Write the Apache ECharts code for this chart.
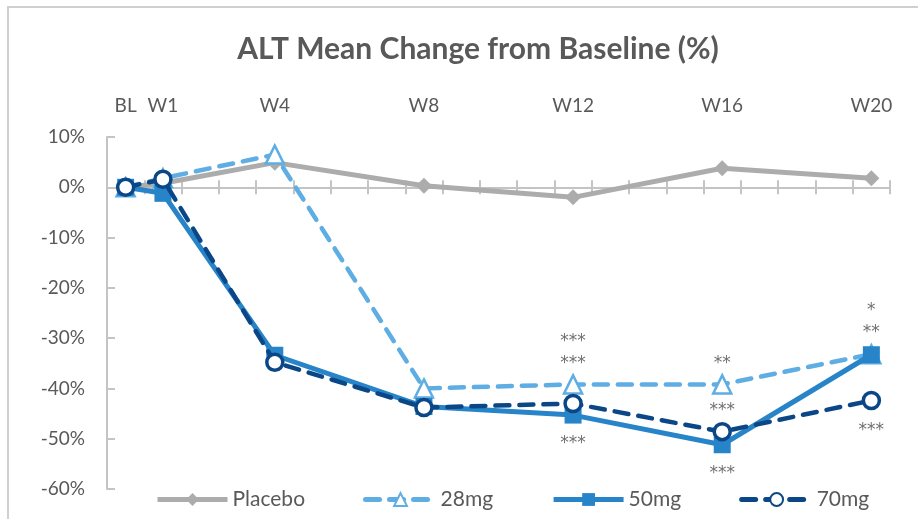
<!DOCTYPE html>
<html>
<head>
<meta charset="utf-8">
<script src="https://cdn.jsdelivr.net/npm/echarts@6/dist/echarts.min.js"></script>
<style>
html,body{margin:0;padding:0;background:#fff;}
#chart{width:918px;height:519px;}
</style>
</head>
<body>
<div id="chart"></div>
<script>
// ---- data ----
const weeks = [0, 1, 4, 8, 12, 16, 20];
const weekLabels = ['BL', 'W1', 'W4', 'W8', 'W12', 'W16', 'W20'];
const lastWeek = 20;
const seriesNames = ['Placebo', '28mg', '50mg', '70mg'];
const placebo = [0, 0.8, 4.9, 0.3, -2.0, 3.8, 1.8];
const mg28 = [0, 1.8, 6.5, -40.0, -39.2, -39.2, -33.2];
const mg50 = [0, -1.2, -33.4, -43.6, -45.3, -51.2, -33.3];
const mg70 = [0, 1.6, -34.8, -43.8, -43.0, -48.6, -42.4];
// significance annotations
const sigAbove28 = ['', '', '', '', '***\n***', '**', '*\n**'];
const sigBelow50 = ['', '', '', '', '***', '***', ''];
const sigAbove70 = ['', '', '', '', '', '***', ''];
const sigBelow70 = ['', '', '', '', '', '', '***'];
const yTicks = { min: -60, max: 10, step: 10 };

// ---- build ----
const FONT = 'Lato, "Noto Sans", sans-serif';
const TXT = '#595959';
const AX = '#c4c4c4';
const cats = [];
for (let w = 0; w <= lastWeek; w++) {
  const i = weeks.indexOf(w);
  cats.push(i >= 0 ? weekLabels[i] : '');
}
const sigStyle = { show: true, color: '#707070', fontSize: 17, fontFamily: '"DejaVu Sans", sans-serif', lineHeight: 22 };
function buildData(vals, above, below) {
  return weeks.map((w, i) => {
    const item = { value: [w, vals[i]] };
    const a = above ? above[i] : '';
    const b = below ? below[i] : '';
    if (a) item.label = Object.assign({}, sigStyle, { position: 'top', distance: 0, formatter: a });
    else if (b) item.label = Object.assign({}, sigStyle, { position: 'bottom', distance: 9, formatter: b });
    return item;
  });
}
const chart = echarts.init(document.getElementById('chart'), null, { renderer: 'canvas' });
const axLine = { color: AX, width: 2 };
chart.setOption({
  animation: false,
  backgroundColor: '#fff',
  graphic: [{ type: 'rect', shape: { x: 8, y: 7, width: 1200, height: 1200 }, style: { fill: 'none', stroke: '#d0d0d0', lineWidth: 2 }, silent: true, z: -10 }],
  title: {
    text: 'ALT Mean Change from Baseline (%)',
    left: 473, textAlign: 'center', top: 29,
    textStyle: { fontFamily: FONT, fontSize: 30, fontWeight: 'bold', color: TXT }
  },
  legend: {
    bottom: 4, left: 150,
    itemWidth: 70, itemHeight: 16, itemGap: 58,
    data: [
      { name: 'Placebo', lineStyle: { width: 5 } },
      { name: '28mg', lineStyle: { width: 5 } },
      { name: '50mg', lineStyle: { width: 5 } },
      { name: '70mg', lineStyle: { width: 5 } }
    ],
    textStyle: { fontFamily: FONT, fontSize: 21, color: TXT }
  },
  grid: { left: 107, right: 28, top: 137, bottom: 30, containLabel: false },
  xAxis: [
    { type: 'category', data: cats, boundaryGap: true, position: 'bottom',
      axisLine: { show: true, onZero: true, onZeroAxisIndex: 0, lineStyle: axLine },
      axisTick: { show: true, interval: 0, length: 7, lineStyle: axLine },
      axisLabel: { show: false }, splitLine: { show: false } },
    { type: 'category', data: cats, boundaryGap: true, position: 'top',
      axisLine: { show: true, onZero: true, onZeroAxisIndex: 1, lineStyle: axLine },
      axisTick: { show: true, interval: 0, length: 7, lineStyle: axLine },
      axisLabel: { show: false }, splitLine: { show: false } },
    { type: 'category', data: cats, boundaryGap: true, position: 'top',
      axisLine: { show: false, onZero: false },
      axisTick: { show: false },
      axisLabel: { show: true, interval: 0, fontFamily: FONT, fontSize: 19, color: TXT, margin: 22 },
      splitLine: { show: false } }
  ],
  yAxis: [
    { type: 'value', min: yTicks.min, max: yTicks.max, interval: yTicks.step,
      axisLine: { show: true, onZero: false, lineStyle: axLine },
      axisTick: { show: true, inside: true, length: 8, lineStyle: axLine },
      axisLabel: { formatter: '{value}%', fontFamily: FONT, fontSize: 19, color: TXT, margin: 22 },
      splitLine: { show: false } },
    { type: 'value', min: yTicks.min, max: yTicks.max, interval: yTicks.step, show: false,
      splitLine: { show: false } }
  ],
  series: [
    { name: 'Placebo', type: 'line', data: buildData(placebo), symbol: 'diamond', symbolSize: 16,
      lineStyle: { color: '#acacac', width: 5 }, itemStyle: { color: '#acacac' }, z: 2 },
    { name: '28mg', type: 'line', data: buildData(mg28, sigAbove28, null), symbol: 'triangle', symbolSize: 18,
      lineStyle: { color: '#5eade3', width: 4.5, type: [14, 10], cap: 'round' },
      itemStyle: { color: '#ffffff', borderColor: '#5eade3', borderWidth: 2.5 }, z: 3 },
    { name: '50mg', type: 'line', data: buildData(mg50, null, sigBelow50), symbol: 'rect', symbolSize: 17,
      lineStyle: { color: '#2784c8', width: 5 }, itemStyle: { color: '#2784c8' }, z: 4 },
    { name: '70mg', type: 'line', data: buildData(mg70, sigAbove70, sigBelow70), symbol: 'circle', symbolSize: 16,
      lineStyle: { color: '#0b4787', width: 4.5, type: [14, 10], cap: 'round' },
      itemStyle: { color: '#ffffff', borderColor: '#0b4787', borderWidth: 3.5 }, z: 5 }
  ]
});
</script>
</body>
</html>
